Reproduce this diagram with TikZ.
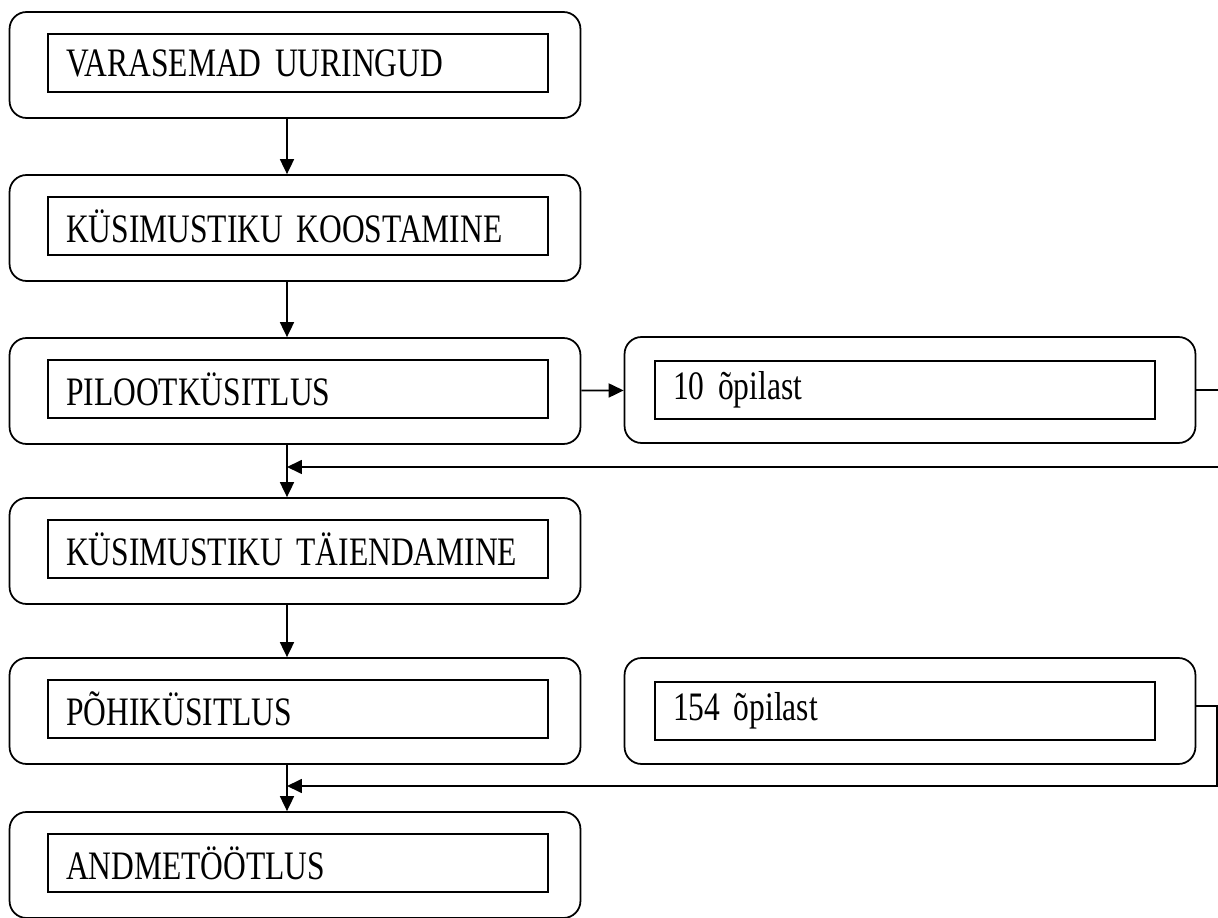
\documentclass[tikz,border=0pt]{standalone}
\usepackage{fontspec}
\setmainfont{Liberation Serif}
\newfontfamily\siltfont[FakeStretch=0.78]{Liberation Serif}
\usetikzlibrary{calc,arrows.meta}

\tikzset{
  kast/.style={draw, line width=1pt, rounded corners=0.34cm, minimum width=11.42cm, minimum height=2.12cm},
  silt/.style={draw, line width=1pt, minimum width=10cm, minimum height=1.16cm, text width=9.28cm,
    inner xsep=0.36cm, align=left, font={\siltfont\fontsize{23}{26}\selectfont\fontdimen2\font=4.2pt}},
  nool/.style={line width=1pt, -{Triangle[length=0.3cm,width=0.28cm]}}
}

\begin{document}
\begin{tikzpicture}[x=0.02cm,y=-0.02cm]
\useasboundingbox (0,0) rectangle (1218,918);
% vasak veerg
\foreach \n/\y/\t in {1/65/VARASEMAD UURINGUD,2/228/KÜSIMUSTIKU KOOSTAMINE,3/391/PILOOTKÜSITLUS,4/551/KÜSIMUSTIKU TÄIENDAMINE,5/711/PÕHIKÜSITLUS,6/865/ANDMETÖÖTLUS} {
  \node[kast] (o\n) at (295,\y) {};
  \node[silt] (s\n) at (298,\y-2) {\t};}
% parem veerg
\foreach \n/\y/\t in {3/390/10 õpilast,5/711/154 õpilast} {
  \node[kast] (r\n) at (910,\y) {};
  \node[silt] (p\n) at (905,\y) {\t};}

\coordinate (ax) at (287,0);
\foreach \a/\b in {1/2,2/3,3/4,4/5,5/6}
  \draw[nool] (ax |- o\a.south) -- (ax |- o\b.north);
\draw[nool] (o3) -- (r3);

% tagasiside
\coordinate (k1) at (1240,467);
\coordinate (k2) at (1217,786);
\draw[nool] (r3.east) -| (k1) -- (ax |- k1);
\draw[nool] ($(r5.east)+(0,-5)$) -| (k2) -- (ax |- k2);
\end{tikzpicture}
\end{document}
